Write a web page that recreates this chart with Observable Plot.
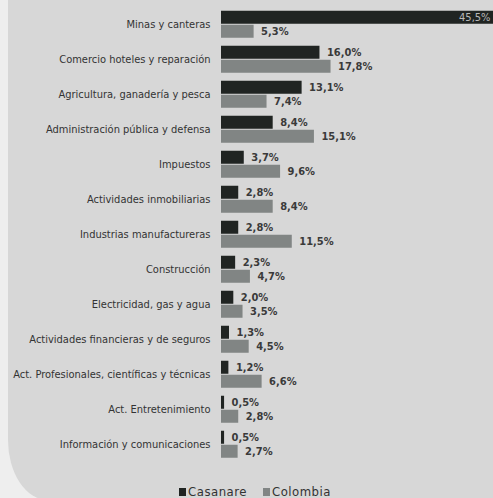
<!DOCTYPE html>
<html>
<head>
<meta charset="utf-8">
<script src="https://cdn.jsdelivr.net/npm/d3@7"></script>
<script src="https://cdn.jsdelivr.net/npm/@observablehq/plot@0.6"></script>
<style>
  html, body { margin:0; padding:0; background:#eeeeee; width:493px; height:498px; overflow:hidden; }
  #panel { position:absolute; left:8px; top:0; width:485px; height:500px; background:#d7d7d7;
           border-bottom-left-radius:40px 60px; }
  #chart { position:absolute; left:0; top:0; }
  #legend { position:absolute; left:0; top:484px; width:510px; text-align:center;
            font-family:"Liberation Sans Narrow","DejaVu Sans Condensed",sans-serif; font-size:13px; color:#333; letter-spacing:0.5px; }
  .sw { display:inline-block; width:7px; height:8px; margin-right:2px; vertical-align:0px; }
</style>
</head>
<body>
<div id="panel"></div>
<div id="chart"></div>
<div id="legend"></div>
<script>
const categories = [
  "Minas y canteras",
  "Comercio hoteles y reparación",
  "Agricultura, ganadería y pesca",
  "Administración pública y defensa",
  "Impuestos",
  "Actividades inmobiliarias",
  "Industrias manufactureras",
  "Construcción",
  "Electricidad, gas y agua",
  "Actividades financieras y de seguros",
  "Act. Profesionales, científicas y técnicas",
  "Act. Entretenimiento",
  "Información y comunicaciones"
];
const series = ["Casanare", "Colombia"];
const casanare = [45.5, 16.0, 13.1, 8.4, 3.7, 2.8, 2.8, 2.3, 2.0, 1.3, 1.2, 0.5, 0.5];
const colombia = [5.3, 17.8, 7.4, 15.1, 9.6, 8.4, 11.5, 4.7, 3.5, 4.5, 6.6, 2.8, 2.7];
const colors = ["#202422", "#818584"];

const rows = [];
categories.forEach((c, i) => {
  rows.push({cat: c, series: "Casanare", value: casanare[i]});
  rows.push({cat: c, series: "Colombia", value: colombia[i]});
});
const fmt = d => d.value.toFixed(1).replace(".", ",") + "%";
const font = "'Liberation Sans Narrow','DejaVu Sans Condensed',sans-serif";

const chart = Plot.plot({
  width: 493,
  height: 478,
  marginLeft: 221,
  marginRight: 0,
  marginTop: 6.25,
  marginBottom: 15.2,
  style: {background: "transparent", fontFamily: font, fontSize: "11px", color: "#333"},
  x: {domain: [0, 44.2], axis: null},
  y: {domain: series, axis: null, padding: 0.05},
  fy: {domain: categories, padding: 0.137, label: null},
  color: {domain: series, range: colors},
  marks: [
    Plot.axisFy({anchor: "left", tickSize: 0, tickPadding: 11, label: null, fontSize: 11, fill: "#333"}),
    Plot.barX(rows, {x: "value", y: "series", fy: "cat", fill: "series"}),
    Plot.text(rows.filter(d => d.value < 40), {x: "value", y: "series", fy: "cat", text: fmt, dx: 7,
      textAnchor: "start", fontWeight: "bold", fill: "#3a3a3a", fontSize: 11}),
    Plot.text(rows.filter(d => d.value >= 40), {x: "value", y: "series", fy: "cat", text: fmt, dx: -11,
      textAnchor: "end", fill: "#b8b8b8", fontSize: 11})
  ]
});
document.getElementById("chart").appendChild(chart);

const leg = document.getElementById("legend");
series.forEach((s, i) => {
  const span = document.createElement("span");
  span.style.marginRight = i === 0 ? "16px" : "0";
  span.innerHTML = `<span class="sw" style="background:${colors[i]}"></span>${s}`;
  leg.appendChild(span);
});
</script>
</body>
</html>
